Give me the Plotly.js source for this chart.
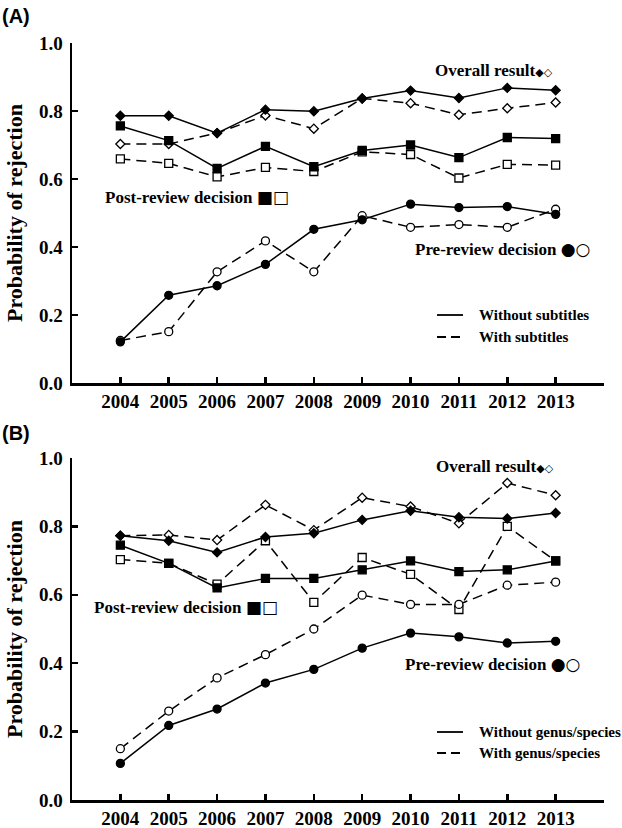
<!DOCTYPE html>
<html>
<head>
<meta charset="utf-8">
<script src="https://cdn.plot.ly/plotly-3.0.1.min.js"></script>
<style>html,body{margin:0;padding:0;background:#fff;}#chart{width:622px;height:828px;}</style>
</head>
<body>
<div id="chart"></div>
<script>
// ---- Data ----
const years = [2004, 2005, 2006, 2007, 2008, 2009, 2010, 2011, 2012, 2013];

// Panel A: subtitles
const overallWithoutA = [0.786, 0.786, 0.735, 0.804, 0.799, 0.837, 0.860, 0.838, 0.868, 0.861];
const overallWithA    = [0.703, 0.703, 0.735, 0.787, 0.748, 0.837, 0.823, 0.789, 0.808, 0.825];
const postWithoutA    = [0.756, 0.713, 0.631, 0.696, 0.636, 0.684, 0.700, 0.663, 0.722, 0.719];
const postWithA       = [0.659, 0.646, 0.606, 0.634, 0.622, 0.680, 0.672, 0.603, 0.643, 0.641];
const preWithoutA     = [0.121, 0.258, 0.286, 0.349, 0.452, 0.480, 0.526, 0.516, 0.519, 0.496];
const preWithA        = [0.125, 0.151, 0.327, 0.418, 0.327, 0.492, 0.458, 0.466, 0.458, 0.511];

// Panel B: genus/species
const overallWithoutB = [0.773, 0.758, 0.724, 0.769, 0.780, 0.819, 0.846, 0.827, 0.823, 0.839];
const overallWithB    = [0.773, 0.775, 0.760, 0.863, 0.789, 0.884, 0.858, 0.809, 0.927, 0.891];
const postWithoutB    = [0.745, 0.692, 0.620, 0.648, 0.648, 0.673, 0.699, 0.668, 0.673, 0.699];
const postWithB       = [0.703, 0.692, 0.631, 0.758, 0.578, 0.709, 0.660, 0.557, 0.800, 0.699];
const preWithoutB     = [0.107, 0.218, 0.266, 0.342, 0.382, 0.444, 0.488, 0.477, 0.459, 0.464];
const preWithB        = [0.150, 0.260, 0.357, 0.425, 0.500, 0.599, 0.572, 0.572, 0.628, 0.637];

const legendLabelsA = ['Without subtitles', 'With subtitles'];
const legendLabelsB = ['Without genus/species', 'With genus/species'];
const yTickVals = [0, 0.2, 0.4, 0.6, 0.8, 1.0];

// ---- Styling helpers ----
const W = 622, H = 828;
const px = v => v / W;
const py = v => 1 - v / H;
const SERIF = 'Liberation Serif, Times New Roman, serif';
const DASH = '10px,6px';

function series(xa, ya, y, symbol, filled, dashed, size) {
  return {
    x: years, y: y, xaxis: xa, yaxis: ya, type: 'scatter', mode: 'lines+markers',
    showlegend: false, hoverinfo: 'skip',
    line: {color: '#000', width: 1.5, dash: dashed ? DASH : 'solid'},
    marker: {symbol: symbol, size: size, color: filled ? '#000' : '#fff',
             line: {color: '#000', width: 1.3}}
  };
}

function panelTraces(xa, ya, d) {
  return [
    series(xa, ya, d.overallWith, 'diamond', false, true, 7),
    series(xa, ya, d.postWith, 'square', false, true, 8),
    series(xa, ya, d.preWith, 'circle', false, true, 8),
    series(xa, ya, d.overallWithout, 'diamond', true, false, 7),
    series(xa, ya, d.postWithout, 'square', true, false, 8),
    series(xa, ya, d.preWithout, 'circle', true, false, 8)
  ];
}

const traces = [].concat(
  panelTraces('x', 'y', {overallWithout: overallWithoutA, overallWith: overallWithA,
    postWithout: postWithoutA, postWith: postWithA, preWithout: preWithoutA, preWith: preWithA}),
  panelTraces('x2', 'y2', {overallWithout: overallWithoutB, overallWith: overallWithB,
    postWithout: postWithoutB, postWith: postWithB, preWithout: preWithoutB, preWith: preWithB})
);

function xAxis(anchor) {
  return {
    domain: [px(72), px(604)], range: [2003, 2014], anchor: anchor,
    tickvals: years, ticktext: years.map(String),
    showline: true, linecolor: '#000', linewidth: 2.5,
    ticks: 'inside', ticklen: 6, tickwidth: 2.5, tickcolor: '#000',
    showgrid: false, zeroline: false, ticklabelstandoff: 0,
    tickfont: {family: SERIF, size: 19, color: '#000', weight: 'bold'}
  };
}
function yAxis(anchor, top, bottom) {
  return {
    domain: [py(bottom), py(top)], range: [0, 1], anchor: anchor,
    tickvals: yTickVals, tickformat: '.1f',
    showline: true, linecolor: '#000', linewidth: 2.5,
    ticks: 'inside', ticklen: 6, tickwidth: 2.5, tickcolor: '#000',
    showgrid: false, zeroline: false, ticklabelstandoff: 3,
    tickfont: {family: SERIF, size: 19, color: '#000', weight: 'bold'}
  };
}

function ann(text, x, y, opts) {
  return Object.assign({
    text: text, xref: 'paper', yref: 'paper', x: px(x), y: py(y),
    xanchor: 'left', yanchor: 'middle', showarrow: false,
    font: {family: SERIF, size: 17, color: '#000', weight: 'bold'}
  }, opts || {});
}
const legFont = {family: SERIF, size: 15, color: '#000', weight: 'bold'};
const SYM = 'font-family:DejaVu Sans;color:#000;';
const overallKey = 'Overall result<span style="' + SYM + 'font-size:11px">◆◇</span>';
const postKey = 'Post-review decision <span style="' + SYM + 'font-size:17px">■□</span>';
const preKey = 'Pre-review decision <span style="' + SYM + 'font-size:17px">●○</span>';
const annotations = [
  ann('(A)', 0, 16, {font: {family: 'Liberation Sans, Arial, sans-serif', size: 20, color: '#000', weight: 'bold'}}),
  ann('(B)', 0, 433, {font: {family: 'Liberation Sans, Arial, sans-serif', size: 20, color: '#000', weight: 'bold'}}),
  ann('Probability of rejection', 14, 213, {xanchor: 'center', textangle: -90,
    font: {family: SERIF, size: 22, color: '#000', weight: 'bold'}}),
  ann('Probability of rejection', 14, 629, {xanchor: 'center', textangle: -90,
    font: {family: SERIF, size: 22, color: '#000', weight: 'bold'}}),
  // Panel A labels
  ann(overallKey, 433, 70),
  ann(postKey, 103, 197),
  ann(preKey, 413, 249),
  ann(legendLabelsA[0], 477, 315, {font: legFont}),
  ann(legendLabelsA[1], 477, 337, {font: legFont}),
  // Panel B labels
  ann(overallKey, 434, 467),
  ann(postKey, 92, 607),
  ann(preKey, 403, 664),
  ann(legendLabelsB[0], 477, 732, {font: legFont}),
  ann(legendLabelsB[1], 477, 753, {font: legFont})
];

function legLine(y, dashed) {
  return {type: 'line', xref: 'paper', yref: 'paper', x0: px(437), x1: px(463), y0: py(y), y1: py(y),
          line: {color: '#000', width: 1.8, dash: dashed ? '9px,5px' : 'solid'}};
}
const shapes = [legLine(315, false), legLine(337, true), legLine(732, false), legLine(753, true)];

const layout = {
  width: W, height: H,
  margin: {l: 0, r: 0, t: 0, b: 0},
  paper_bgcolor: '#fff', plot_bgcolor: '#fff',
  showlegend: false,
  xaxis: xAxis('y'), yaxis: yAxis('x', 43, 383),
  xaxis2: xAxis('y2'), yaxis2: yAxis('x2', 458, 800),
  annotations: annotations, shapes: shapes
};

Plotly.newPlot('chart', traces, layout, {displayModeBar: false, staticPlot: true});
</script>
</body>
</html>
